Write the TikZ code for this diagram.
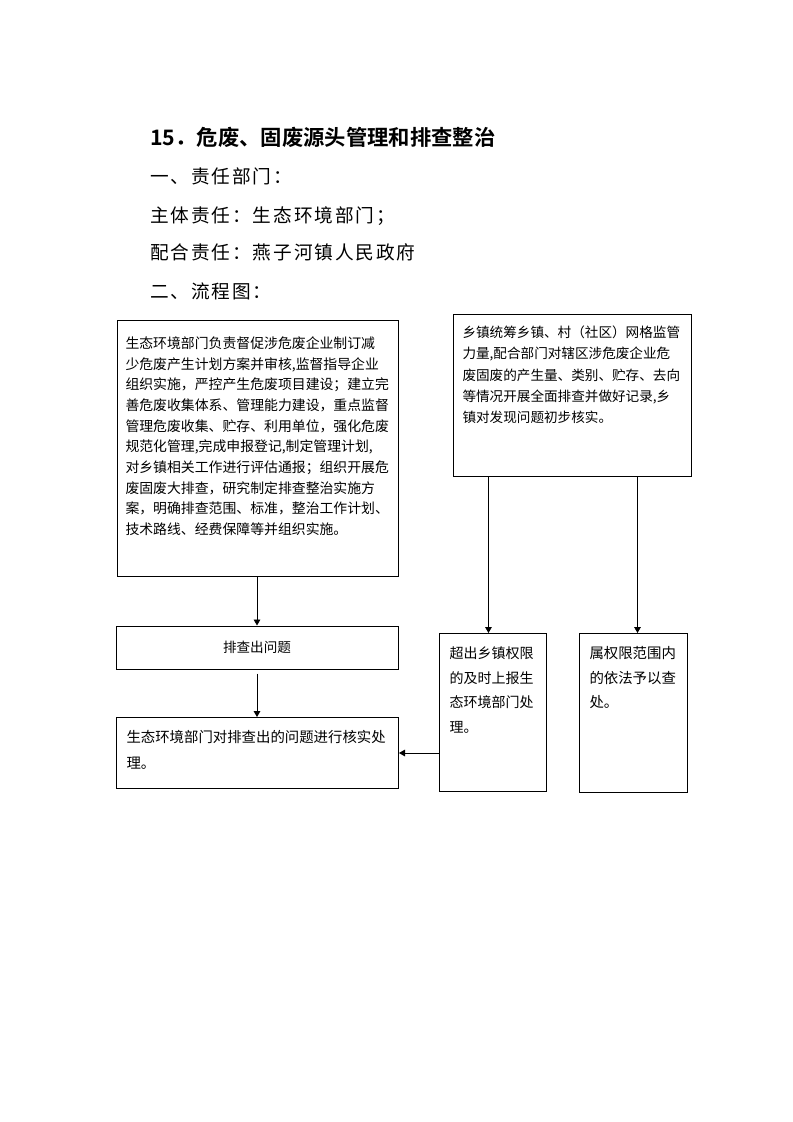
\documentclass[tikz,border=0pt]{standalone}
\usepackage{fontspec}
\setmainfont{Noto Sans CJK SC}[BoldFont={Noto Sans CJK SC Bold}]
\newfontfamily\hdfont[LetterSpace=10]{Noto Sans CJK SC}
\usetikzlibrary{arrows.meta,calc}
\tikzset{
  % Base box, text hangs from the top
  TB/.style={rectangle,draw,line width=0.75pt,anchor=north west,
             align=left,inner ysep=0pt},
  % Box with centred text
  CB/.style={rectangle,draw,line width=0.75pt,align=center,
             font=\fontsize{10.2pt}{12pt}\selectfont},
  % Arrow
  arr/.style={-{Triangle[length=4.5pt,width=5pt]},line width=0.6pt},
  % Heading lines
  HD/.style={anchor=base west,inner sep=0pt,
             font=\hdfont\fontsize{14pt}{16pt}\selectfont}
}

\begin{document}
\begin{tikzpicture}[x=0.75pt,y=-0.75pt]
  \useasboundingbox (0,0) rectangle (793,1122);
  % Heading
  \node[HD,font=\bfseries\fontsize{16pt}{18pt}\selectfont] (ttl) at (150,145)
    {15．危废、固废源头管理和排查整治};
  \node[HD] (duty)   at (150,183.5) {一、责任部门：};
  \node[HD] (lead)   at (150,222.5) {主体责任：生态环境部门；};
  \node[HD] (assist) at (150,259.5) {配合责任：燕子河镇人民政府};
  \node[HD] (flow)   at (150,298.5) {二、流程图：};
  % Flow chart
  \node[TB,inner xsep=6pt,text width=198.75pt,text height=21pt,text depth=171pt,
        font=\fontsize{10.4pt}{15.5pt}\selectfont] (lt) at (117,320)
    {生态环境部门负责督促涉危废企业制订减\\
     少危废产生计划方案并审核,监督指导企业\\
     组织实施，严控产生危废项目建设；建立完\\
     善危废收集体系、管理能力建设，重点监督\\
     管理危废收集、贮存、利用单位，强化危废\\
     规范化管理,完成申报登记,制定管理计划,\\
     对乡镇相关工作进行评估通报；组织开展危\\
     废固废大排查，研究制定排查整治实施方\\
     案，明确排查范围、标准，整治工作计划、\\
     技术路线、经费保障等并组织实施。};
  \node[TB,inner xsep=6.75pt,text width=165pt,text height=17.25pt,text depth=104.25pt,
        font=\fontsize{10.2pt}{16pt}\selectfont] (rt) at (453,314)
    {乡镇统筹乡镇、村（社区）网格监管\\
     力量,配合部门对辖区涉危废企业危\\
     废固废的产生量、类别、贮存、去向\\
     等情况开展全面排查并做好记录,乡\\
     镇对发现问题初步核实。};
  \node[CB,minimum width=211.5pt,minimum height=32.25pt] (chk) at (257,647.5)
    {排查出问题};
  \node[TB,inner xsep=7.5pt,text width=196.5pt,text height=18.75pt,text depth=34.5pt,
        font=\fontsize{10.8pt}{19.5pt}\selectfont] (res) at (116,717)
    {生态环境部门对排查出的问题进行核实处\\
     理。};
  \node[TB,inner xsep=7.5pt,text width=65.25pt,text height=18.75pt,text depth=99.75pt,
        font=\fontsize{10.5pt}{18.5pt}\selectfont] (up) at (439,633)
    {超出乡镇权限\\
     的及时上报生\\
     态环境部门处\\
     理。};
  \node[TB,inner xsep=7.5pt,text width=66pt,text height=18.75pt,text depth=100.5pt,
        font=\fontsize{10.8pt}{18.5pt}\selectfont] (in) at (579,633)
    {属权限范围内\\
     的依法予以查\\
     处。};
  % Connectors
  \draw[arr] (chk.north |- lt.south) -- (chk.north);
  \draw[arr,shorten <=3pt] (chk.south) -- (chk.south |- res.north);
  \draw[arr] ([xshift=-3.4pt]up.north |- rt.south) -- ([xshift=-3.4pt]up.north);
  \draw[arr] ([xshift=3pt]in.north |- rt.south) -- ([xshift=3pt]in.north);
  \draw[arr] (res.east -| up.west) -- (res.east);
\end{tikzpicture}
\end{document}
